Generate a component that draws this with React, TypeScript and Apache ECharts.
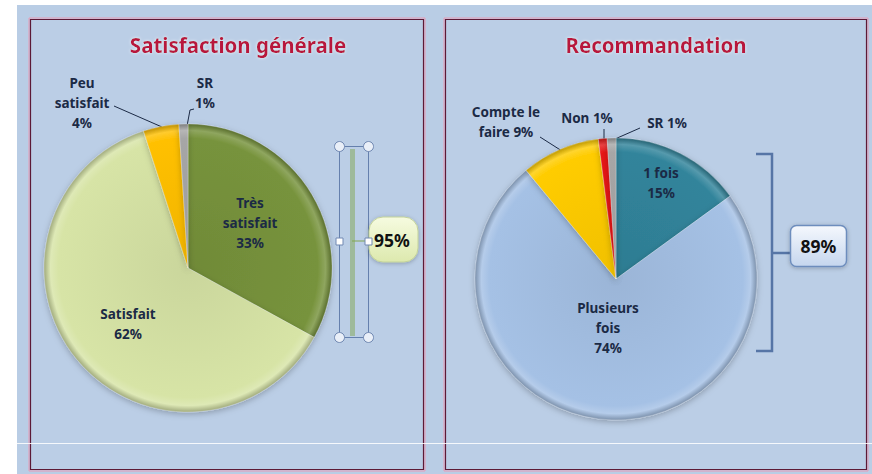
import React, { useEffect, useRef } from "react";
import * as echarts from "echarts";

// ---- Data ----
const satTitle = "Satisfaction générale";
const satCategories = ["Très satisfait", "Satisfait", "Peu satisfait", "SR"];
const satValues = [33, 62, 4, 1];
const satLabelTexts = ["Très\nsatisfait\n33%", "Satisfait\n62%", "Peu\nsatisfait\n4%", "SR\n1%"];
const satTotalLabel = "95%";

const recTitle = "Recommandation";
const recCategories = ["1 fois", "Plusieurs fois", "Compte le faire", "Non", "SR"];
const recValues = [15, 74, 9, 1, 1];
const recLabelTexts = ["1 fois\n15%", "Plusieurs\nfois\n74%", "Compte le\nfaire 9%", "Non 1%", "SR 1%"];
const recTotalLabel = "89%";

// ---- Styles / layout ----
const satColors = ["#77933c", "#d7e4a6", "#ffc000", "#a6a6a6"];
const recColors = ["#31849b", "#a5c1e5", "#ffcc00", "#e81818", "#a6a6a6"];
const satOutside = [false, false, true, true];
const recOutside = [false, false, true, true, true];
const satCenter = [188, 268];
const satRadius = 144;
const recCenter = [616, 279];
const recRadius = 141;

const satLabelPos: Array<[number, number]> = [[250, 223], [128, 324], [82, 103], [205, 93]];
const recLabelPos: Array<[number, number]> = [[661, 183], [608, 328], [506, 122], [587, 118], [667, 123]];
const satLinePts: Array<any> = [null, null, [[114, 106], [162, 127]], [[194, 109], [190, 110], [187, 126]]];
const recLinePts: Array<any> = [null, null, [[540, 137], [562, 151]], [[604, 129], [604, 141]], [[640, 128], [615, 139]]];

const FONT = "'Noto Sans', 'Open Sans', sans-serif";
const TXT = "#1b2a45";

function shade(hex: string, f: number) {
  const n = parseInt(hex.slice(1), 16);
  let r = (n >> 16) & 255, g = (n >> 8) & 255, b = n & 255;
  if (f >= 0) {
    r = r + (255 - r) * f; g = g + (255 - g) * f; b = b + (255 - b) * f;
  } else {
    r = r * (1 + f); g = g * (1 + f); b = b * (1 + f);
  }
  return `rgb(${Math.round(r)},${Math.round(g)},${Math.round(b)})`;
}

function sliceColor(base: string, c: number[], r: number) {
  return {
    type: "radial", x: c[0], y: c[1], r, global: true,
    colorStops: [
      { offset: 0, color: shade(base, -0.06) },
      { offset: 0.9, color: base },
      { offset: 0.955, color: shade(base, 0.18) },
      { offset: 1, color: shade(base, -0.25) },
    ],
  };
}

function buildData(cats: string[], vals: number[], colors: string[], outside: boolean[], c: number[], r: number) {
  return cats.map((name, i) => ({
    name,
    value: vals[i],
    itemStyle: { color: sliceColor(colors[i], c, r) },
    label: { position: outside[i] ? "outside" : "inside" },
    labelLine: { show: outside[i] },
  }));
}

export default function App() {
  const ref = useRef<HTMLDivElement>(null);
  useEffect(() => {
    if (!ref.current) return;
    const chart = echarts.init(ref.current, null, { renderer: "svg" });
    const labelCommon = {
      show: true,
      color: TXT,
      fontFamily: FONT,
      fontWeight: "bold",
      fontSize: 13.5,
      lineHeight: 20,
      align: "center",
    };
    const option: any = {
      animation: false,
      backgroundColor: "#ffffff",
      graphic: [
        { type: "rect", z: -10, shape: { x: 17, y: 5, width: 855, height: 469 }, style: { fill: "#b9cde5" } },
        { type: "rect", z: -9, shape: { x: 29, y: 18, width: 396, height: 453 }, style: { fill: "none", stroke: "#e99ab5", lineWidth: 1 } },
        { type: "rect", z: -9, shape: { x: 30.5, y: 19.5, width: 393, height: 450 }, style: { fill: "#bbcee6", stroke: "#5c1a36", lineWidth: 1.2 } },
        { type: "rect", z: -9, shape: { x: 444, y: 18, width: 424, height: 453 }, style: { fill: "none", stroke: "#e99ab5", lineWidth: 1 } },
        { type: "rect", z: -9, shape: { x: 445.5, y: 19.5, width: 421, height: 450 }, style: { fill: "#bbcee6", stroke: "#5c1a36", lineWidth: 1.2 } },
        { type: "line", z: -8, shape: { x1: 17, y1: 443.5, x2: 872, y2: 443.5 }, style: { stroke: "rgba(255,255,255,0.85)", lineWidth: 1 } },
        {
          type: "text", x: 238, y: 45,
          style: {
            text: satTitle, fill: "#b8123c", font: `bold 20.5px ${FONT}`, align: "center", verticalAlign: "middle",
            textShadowColor: "rgba(255,255,255,0.8)", textShadowBlur: 3,
          },
        },
        {
          type: "text", x: 656, y: 45,
          style: {
            text: recTitle, fill: "#b8123c", font: `bold 20.5px ${FONT}`, align: "center", verticalAlign: "middle",
            textShadowColor: "rgba(255,255,255,0.8)", textShadowBlur: 3,
          },
        },
        // 95% selected-bracket callout
        { type: "line", z: 5, shape: { x1: 352.5, y1: 149, x2: 352.5, y2: 336 }, style: { stroke: "rgba(130,165,80,0.5)", lineWidth: 5 } },
        { type: "line", z: 5, shape: { x1: 352, y1: 241, x2: 368, y2: 241 }, style: { stroke: "rgba(130,165,80,0.5)", lineWidth: 2 } },
        { type: "rect", z: 6, shape: { x: 339.5, y: 146.5, width: 29, height: 191 }, style: { fill: "none", stroke: "#6580ad", lineWidth: 1 } },
        { type: "circle", z: 7, shape: { cx: 339.5, cy: 146.5, r: 5 }, style: { fill: "#e9eff8", stroke: "#7088b2", lineWidth: 1 } },
        { type: "circle", z: 7, shape: { cx: 368.5, cy: 146.5, r: 5 }, style: { fill: "#e9eff8", stroke: "#7088b2", lineWidth: 1 } },
        { type: "circle", z: 7, shape: { cx: 339.5, cy: 337.5, r: 5 }, style: { fill: "#e9eff8", stroke: "#7088b2", lineWidth: 1 } },
        { type: "circle", z: 7, shape: { cx: 368.5, cy: 337.5, r: 5 }, style: { fill: "#e9eff8", stroke: "#7088b2", lineWidth: 1 } },
        {
          type: "rect", z: 8, shape: { x: 369, y: 217, width: 49, height: 45, r: 14 },
          style: {
            fill: { type: "linear", x: 0, y: 0, x2: 0, y2: 1, colorStops: [{ offset: 0, color: "#f6fbe0" }, { offset: 1, color: "#dde9ae" }] },
            stroke: "#c3d29a", lineWidth: 1, shadowBlur: 4, shadowColor: "rgba(0,0,0,0.25)", shadowOffsetY: 1,
          },
        },
        { type: "rect", z: 9, shape: { x: 336, y: 238, width: 7, height: 7 }, style: { fill: "#ffffff", stroke: "#7088b2", lineWidth: 1 } },
        { type: "rect", z: 9, shape: { x: 365, y: 238, width: 7, height: 7 }, style: { fill: "#ffffff", stroke: "#7088b2", lineWidth: 1 } },
        {
          type: "text", z: 10, x: 392, y: 240,
          style: { text: satTotalLabel, fill: "#111111", font: `bold 17.5px ${FONT}`, align: "center", verticalAlign: "middle" },
        },
        // 89% bracket callout
        {
          type: "polyline", z: 5, shape: { points: [[756, 154], [772, 154], [772, 351], [756, 351]] },
          style: { fill: "none", stroke: "#5675a6", lineWidth: 2.5 },
        },
        { type: "line", z: 5, shape: { x1: 772, y1: 253, x2: 790, y2: 253 }, style: { stroke: "#5675a6", lineWidth: 2.5 } },
        {
          type: "rect", z: 8, shape: { x: 790.5, y: 225.5, width: 56, height: 41, r: 6 },
          style: {
            fill: { type: "linear", x: 0, y: 0, x2: 0, y2: 1, colorStops: [{ offset: 0, color: "#f5f8fd" }, { offset: 1, color: "#c5d6ee" }] },
            stroke: "#6d8dbd", lineWidth: 1.5, shadowBlur: 4, shadowColor: "rgba(0,0,0,0.25)", shadowOffsetY: 1,
          },
        },
        {
          type: "text", z: 10, x: 818.5, y: 246,
          style: { text: recTotalLabel, fill: "#111111", font: `bold 17.5px ${FONT}`, align: "center", verticalAlign: "middle" },
        },
      ],
      series: [
        {
          type: "pie",
          center: satCenter,
          radius: satRadius,
          startAngle: 90,
          clockwise: true,
          avoidLabelOverlap: false,
          itemStyle: { borderColor: "rgba(255,255,255,0.3)", borderWidth: 0.8, shadowBlur: 6, shadowColor: "rgba(0,0,0,0.25)", shadowOffsetY: 2 },
          label: { ...labelCommon, formatter: (p: any) => satLabelTexts[p.dataIndex] },
          labelLine: { lineStyle: { color: TXT, width: 1 }, smooth: false },
          labelLayout: (p: any) => ({
            x: satLabelPos[p.dataIndex][0],
            y: satLabelPos[p.dataIndex][1],
            align: "center",
            verticalAlign: "middle",
            labelLinePoints: satLinePts[p.dataIndex] || undefined,
          }),
          emphasis: { disabled: true },
          data: buildData(satCategories, satValues, satColors, satOutside, satCenter, satRadius),
        },
        {
          type: "pie",
          center: recCenter,
          radius: recRadius,
          startAngle: 90,
          clockwise: true,
          avoidLabelOverlap: false,
          itemStyle: { borderColor: "rgba(255,255,255,0.3)", borderWidth: 0.8, shadowBlur: 6, shadowColor: "rgba(0,0,0,0.25)", shadowOffsetY: 2 },
          label: { ...labelCommon, formatter: (p: any) => recLabelTexts[p.dataIndex] },
          labelLine: { lineStyle: { color: TXT, width: 1 }, smooth: false },
          labelLayout: (p: any) => ({
            x: recLabelPos[p.dataIndex][0],
            y: recLabelPos[p.dataIndex][1],
            align: "center",
            verticalAlign: "middle",
            labelLinePoints: recLinePts[p.dataIndex] || undefined,
          }),
          emphasis: { disabled: true },
          data: buildData(recCategories, recValues, recColors, recOutside, recCenter, recRadius),
        },
      ],
    };
    chart.setOption(option);
    return () => chart.dispose();
  }, []);
  return (
    <div
      ref={ref}
      style={{ position: "fixed", left: 0, top: 0, width: 872, height: 474 }}
    />
  );
}
